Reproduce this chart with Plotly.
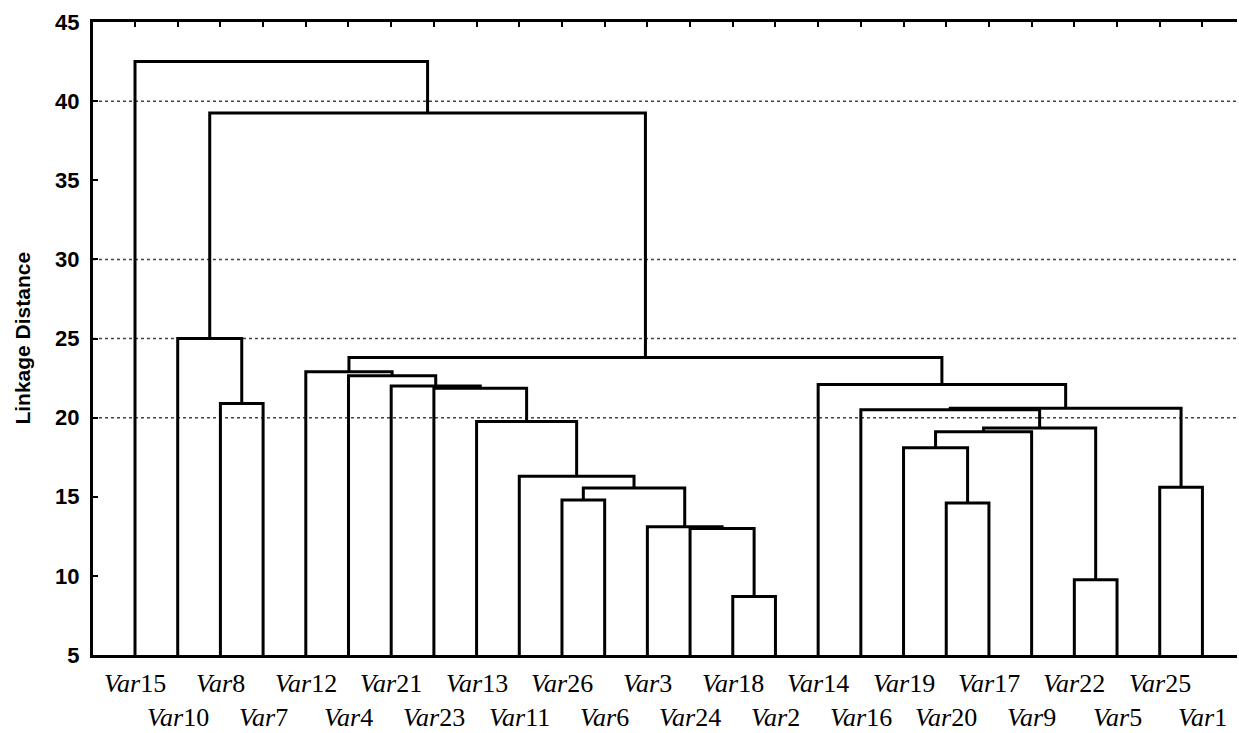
import plotly.graph_objects as go

# ---------------- data ----------------
LEAVES = ["Var15", "Var10", "Var8", "Var7", "Var12", "Var4", "Var21", "Var23",
          "Var13", "Var11", "Var26", "Var6", "Var3", "Var24", "Var18", "Var2",
          "Var14", "Var16", "Var19", "Var20", "Var17", "Var9", "Var22", "Var5",
          "Var25", "Var1"]

# merges: (cluster name, left child, right child, linkage distance)
MERGE_NAMES = ["F", "V", "G", "H", "T0", "I", "J", "S", "K", "T", "U", "Q", "L",
               "P1", "P2", "M", "E", "C", "R", "B", "A", "D", "N", "TOP2", "TOP"]
MERGE_LEFT = ["Var18", "Var22", "Var24", "Var3", "Var20", "Var26", "I", "Var25",
              "Var11", "Var19", "T", "U", "Var13", "Var16", "P1", "Var8", "Var23",
              "Var21", "Var14", "Var4", "Var12", "A", "Var10", "N", "Var15"]
MERGE_RIGHT = ["Var2", "Var5", "F", "G", "Var17", "Var6", "H", "Var1", "J", "T0",
               "Var9", "V", "K", "Q", "S", "Var7", "L", "E", "P2", "C", "B", "R",
               "M", "D", "TOP2"]
MERGE_HEIGHT = [8.7, 9.75, 13.0, 13.1, 14.6, 14.8, 15.55, 15.6, 16.3, 18.1, 19.1,
                19.35, 19.75, 20.5, 20.6, 20.9, 21.85, 22.0, 22.1, 22.65, 22.9,
                23.8, 25.0, 39.25, 42.5]

Y_TICKS = [5, 10, 15, 20, 25, 30, 35, 40, 45]
GRID_LINES = [20, 25, 30, 40]
Y_TITLE = "Linkage Distance"

# ---------------- build dendrogram ----------------
pos = {name: i for i, name in enumerate(LEAVES)}
hgt = {name: 0.0 for name in LEAVES}
xs, ys = [], []
for name, l, r, h in zip(MERGE_NAMES, MERGE_LEFT, MERGE_RIGHT, MERGE_HEIGHT):
    xl, xr = pos[l], pos[r]
    xs += [xl, xl, xr, xr, None]
    ys += [hgt[l], h, h, hgt[r], None]
    pos[name] = (xl + xr) / 2
    hgt[name] = h

fig = go.Figure()
fig.add_trace(go.Scatter(x=xs, y=ys, mode="lines",
                         line=dict(color="black", width=3),
                         hoverinfo="skip", showlegend=False))

shapes = []
for g in GRID_LINES:
    shapes.append(dict(type="line", xref="paper", x0=0, x1=1, yref="y", y0=g, y1=g,
                       line=dict(color="#444444", width=1.5, dash="dot"), layer="below"))

annotations = []
for i, leaf in enumerate(LEAVES):
    num = leaf[3:]
    annotations.append(dict(
        x=i, xref="x", y=0, yref="paper", yanchor="middle",
        yshift=-28 if i % 2 == 0 else -62,
        text="<i>Var</i>" + num, showarrow=False,
        font=dict(family="Liberation Serif, Times New Roman, serif", size=26, color="black")))

annotations.append(dict(
    x=-0.062, xref="paper", y=0.5, yref="paper", xanchor="center", yanchor="middle",
    text=Y_TITLE, textangle=-90, showarrow=False,
    font=dict(family="Liberation Sans, Arial, sans-serif", size=21, color="black", weight="bold")))

fig.update_layout(
    width=1239, height=733,
    margin=dict(l=93, r=2, t=22, b=78),
    paper_bgcolor="white", plot_bgcolor="white",
    shapes=shapes, annotations=annotations,
    xaxis=dict(range=[-0.984, 25.81], tickvals=list(range(len(LEAVES))),
               ticks="inside", ticklen=5, tickwidth=2, tickcolor="black",
               showticklabels=False, showline=True, linewidth=3, linecolor="black",
               mirror="ticks", showgrid=False, zeroline=False),
    yaxis=dict(range=[5, 45], tickvals=Y_TICKS, ticks="inside", ticklen=5,
               tickwidth=2, tickcolor="black", showline=True, linewidth=3,
               linecolor="black", showgrid=False, zeroline=False,
               ticklabelstandoff=6,
               tickfont=dict(family="Liberation Sans, Arial, sans-serif", size=22,
                             color="black", weight="bold")),
)

fig.write_html("out.html", config={"displayModeBar": False},
               post_script="document.body.style.margin='0';")
